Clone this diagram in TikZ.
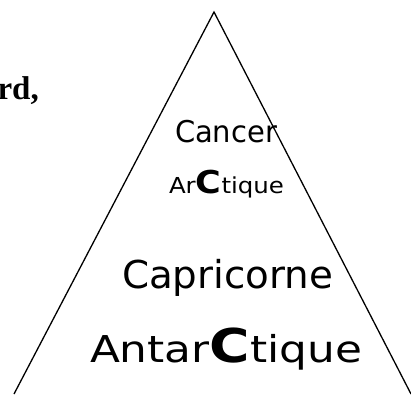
\documentclass[tikz,border=0pt]{standalone}
\usepackage{fontspec}
\setmainfont{Liberation Serif}
\newfontfamily\comicfont{DejaVu Sans}
\usepackage{graphicx}
\newcommand{\fitw}[2]{\resizebox{#1}{\height}{#2}}
\newcommand{\fsz}[1]{\fontsize{#1}{#1}\selectfont}
\begin{document}
\begin{tikzpicture}[x=1pt,y=-1pt,
  lbl/.style={inner sep=0pt,outer sep=0pt,anchor=base west,font=\comicfont},
  tri/.style={draw=black,line width=1.3pt,line join=miter}]
\useasboundingbox (0,0) rectangle (411,394);
\coordinate (apex) at (214,12);
\coordinate (bl) at (14,394);
\coordinate (br) at (411,394);
\draw[tri] (bl) -- (apex) -- (br);
\node[inner sep=0pt,anchor=base east,font=\bfseries\fsz{33}] (rd) at (39,99) {rd,};
\node[lbl] (cancer) at (175,142) {\fitw{102pt}{\fsz{30}Cancer}};
\node[lbl] (arctique) at (169,193) {\fitw{115pt}{\fsz{22}Ar{\bfseries\fsz{31.5}C}tique}};
\node[lbl] (capri) at (122,288) {\fitw{211pt}{\fsz{38.4}Capricorne}};
\node[lbl] (antarc) at (90,362) {\fitw{272pt}{\fsz{37}Antar{\bfseries\fsz{46.6}C}tique}};
\end{tikzpicture}
\end{document}
